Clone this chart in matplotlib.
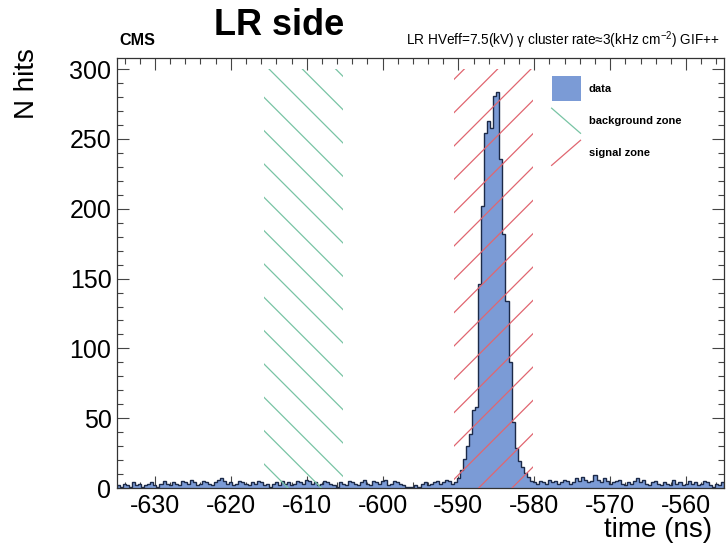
import numpy as np
import matplotlib
matplotlib.use("Agg")
import matplotlib.pyplot as plt
from matplotlib.patches import Rectangle
from matplotlib.legend_handler import HandlerBase
from matplotlib.lines import Line2D
from matplotlib.ticker import MultipleLocator

plt.rcParams["font.family"] = ["Liberation Sans", "DejaVu Sans"]
plt.rcParams["mathtext.fontset"] = "custom"
plt.rcParams["mathtext.rm"] = "Liberation Sans"
plt.rcParams["axes.unicode_minus"] = False
plt.rcParams["hatch.linewidth"] = 0.45

# ---- data -------------------------------------------------------------
time_lo = -635.0
bin_width = 0.4

# hits per 0.4 ns bin, before the signal peak (from -635 ns)
counts_before = [
    2, 1, 3, 2, 1, 4, 2, 3, 1, 2,
    3, 4, 2, 1, 3, 5, 3, 2, 4, 3,
    2, 5, 4, 3, 6, 4, 2, 3, 5, 4,
    3, 2, 4, 6, 7, 5, 3, 4, 2, 3,
    5, 4, 3, 2, 4, 3, 5, 4, 2, 3,
    1, 3, 4, 2, 5, 3, 4, 2, 3, 5,
    4, 3, 6, 5, 3, 4, 2, 3, 5, 4,
    3, 2, 1, 4, 3, 2, 5, 4, 3, 2,
    4, 6, 3, 2, 5, 4, 3, 5, 6, 2,
    3, 5, 4, 3, 2, 1, 1, 1, 2, 1,
    3, 4, 2, 3, 4, 5, 3, 4, 6, 5,
    3,
]
# signal peak (from -590.6 ns)
counts_peak = [
    4, 7, 13, 21, 30, 39, 56, 58, 146, 202,
    254, 263, 258, 281, 284, 236, 182, 134, 90, 47,
    29, 19, 15, 11, 8, 5, 4,
]
# tail after the peak (from -579.8 ns up to -555 ns)
counts_after = [
    3, 5, 4, 3, 6, 4, 5, 3, 4, 6,
    5, 3, 4, 7, 5, 8, 6, 4, 5, 9,
    6, 4, 7, 5, 3, 4, 5, 6, 3, 2,
    4, 3, 5, 7, 4, 6, 3, 2, 4, 5,
    3, 2, 4, 3, 2, 6, 3, 4, 2, 3,
    5, 3, 4, 2, 3, 5, 4, 2, 1, 3,
    2, 4,
]

background_zone = (-615.6, -605.2)
signal_zone = (-590.6, -580.2)
zone_height = 300

counts = np.array(counts_before + counts_peak + counts_after, dtype=float)
edges = time_lo + bin_width * np.arange(len(counts) + 1)

# ---- style ------------------------------------------------------------
fill_color = "#7b9bd6"
line_color = "#1c2a48"
bg_color = "#78c4a4"
sig_color = "#e06670"
axis_color = "#333333"

W, H = 726, 545
fig = plt.figure(figsize=(W / 200, H / 200), dpi=200)
ax = fig.add_axes([117 / W, 1 - 488 / H, 607 / W, 430 / H])

ax.stairs(counts, edges, fill=True, facecolor=fill_color, linewidth=0, zorder=2)
ax.stairs(counts, edges, color=line_color, linewidth=0.5, zorder=2.5)

bg_box = Rectangle((background_zone[0], 0), background_zone[1] - background_zone[0],
                   zone_height, facecolor="none", edgecolor=bg_color,
                   linewidth=0, hatch="\\\\", zorder=3)
sig_box = Rectangle((signal_zone[0], 0), signal_zone[1] - signal_zone[0],
                    zone_height, facecolor="none", edgecolor=sig_color,
                    linewidth=0, hatch="//", zorder=3)
ax.add_patch(bg_box)
ax.add_patch(sig_box)

ax.set_xlim(time_lo, edges[-1])
ax.set_ylim(0, 308)

ax.xaxis.set_major_locator(MultipleLocator(10))
ax.xaxis.set_minor_locator(MultipleLocator(2))
ax.yaxis.set_major_locator(MultipleLocator(50))
ax.yaxis.set_minor_locator(MultipleLocator(10))
ax.tick_params(which="both", direction="in", top=True, right=True,
               color="#444444", width=0.4, labelsize=9, pad=2)
ax.tick_params(which="major", length=4.3)
ax.tick_params(which="minor", length=2.2)
for sp in ax.spines.values():
    sp.set_linewidth(0.45)
    sp.set_color(axis_color)

ax.set_ylabel("N hits", loc="top", fontsize=10)
ax.yaxis.set_label_coords(-0.127, 1.023)
ax.set_xlabel("time (ns)", loc="right", fontsize=10)
ax.xaxis.set_label_coords(0.980, -0.068)


class DiagonalHandler(HandlerBase):
    """Legend key drawn as a single diagonal hatch stroke."""

    def __init__(self, rising):
        super().__init__()
        self.rising = rising

    def create_artists(self, legend, orig_handle, xdescent, ydescent,
                       width, height, fontsize, trans):
        xs = np.array([0, width]) - xdescent
        ys = (np.array([0, height]) if self.rising
              else np.array([height, 0])) - ydescent
        line = Line2D(xs, ys, color=orig_handle.get_edgecolor(), linewidth=0.45)
        line.set_transform(trans)
        return [line]


data_key = Rectangle((0, 0), 1, 1, facecolor=fill_color, linewidth=0)
ax.legend([data_key, bg_box, sig_box], ["data", "background zone", "signal zone"],
          handler_map={bg_box: DiagonalHandler(False), sig_box: DiagonalHandler(True)},
          loc="upper left", bbox_to_anchor=(0.716, 0.958), frameon=False,
          prop={"weight": "bold", "size": 4}, handlelength=2.6, handleheight=3.1,
          labelspacing=0.63, handletextpad=0.75, borderpad=0, borderaxespad=0)

fig.text(137 / W, 1 - 45 / H, "CMS", weight="bold", size=5.8, ha="center", va="baseline")
fig.text(279 / W, 1 - 35 / H, "LR side", weight="bold", size=13, ha="center", va="baseline")
fig.text(720 / W, 1 - 45 / H,
         "LR HVeff=7.5(kV) γ cluster rate≈3(kHz cm$^{-2}$) GIF++",
         size=4.9, ha="right", va="baseline")

fig.savefig("out.png", dpi=200)
